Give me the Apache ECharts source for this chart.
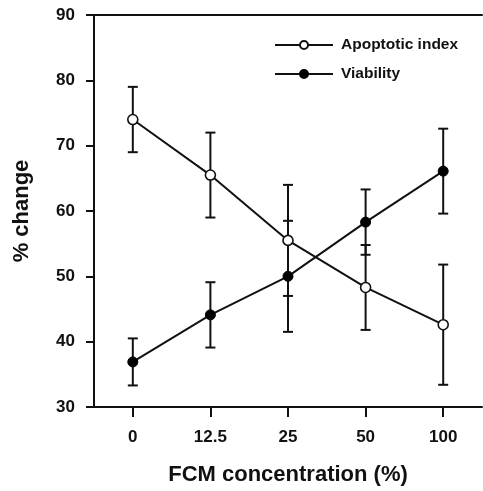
<!DOCTYPE html>
<html>
<head>
<meta charset="utf-8">
<script src="https://cdn.jsdelivr.net/npm/echarts@6/dist/echarts.min.js"></script>
<style>
  html, body { margin: 0; padding: 0; background: #fff; }
  #chart { width: 483px; height: 491px; }
</style>
</head>
<body>
<div id="chart"></div>
<script>
// FCM concentration groups (%)
const categories = ['0', '12.5', '25', '50', '100'];
// Mean % change with symmetric error (±)
const apoptoticIndex = [74, 65.5, 55.5, 48.3, 42.6];
const apoptoticErr   = [5, 6.5, 8.5, 6.5, 9.2];
const viability      = [36.9, 44.1, 50.0, 58.3, 66.1];
const viabilityErr   = [3.6, 5, 8.5, 5, 6.5];
const yTicks = [30, 40, 50, 60, 70, 80, 90];

const FONT = 'Liberation Sans, Arial, Helvetica, sans-serif';

function errorRows(means, errs) {
  return means.map((m, i) => [i, m - errs[i], m + errs[i]]);
}

function errorBarRenderer(params, api) {
  const i = api.value(0);
  const lo = api.coord([i, api.value(1)]);
  const hi = api.coord([i, api.value(2)]);
  const half = 5;
  const style = { stroke: '#111', lineWidth: 2, fill: null };
  return {
    type: 'group',
    children: [
      { type: 'line', shape: { x1: hi[0], y1: hi[1], x2: lo[0], y2: lo[1] }, style },
      { type: 'line', shape: { x1: hi[0] - half, y1: hi[1], x2: hi[0] + half, y2: hi[1] }, style },
      { type: 'line', shape: { x1: lo[0] - half, y1: lo[1], x2: lo[0] + half, y2: lo[1] }, style }
    ]
  };
}

const chart = echarts.init(document.getElementById('chart'), null, { renderer: 'canvas' });

chart.setOption({
  animation: false,
  backgroundColor: '#fff',
  grid: { left: 94, right: 1, top: 15, bottom: 83, containLabel: false },
  legend: {
    orient: 'vertical',
    left: 274,
    top: 37,
    padding: 0,
    itemWidth: 58,
    itemHeight: 10,
    itemGap: 13,
    data: ['Apoptotic index', 'Viability'],
    textStyle: { fontFamily: FONT, fontWeight: 'bold', fontSize: 15.5, color: '#111', padding: [0, 0, 0, 3] }
  },
  xAxis: [
    {
      type: 'category',
      data: categories,
      boundaryGap: true,
      position: 'bottom',
      axisLine: { show: true, lineStyle: { color: '#111', width: 2 } },
      axisTick: { show: true, alignWithLabel: true, length: 10, lineStyle: { color: '#111', width: 2 } },
      axisLabel: { fontFamily: FONT, fontWeight: 'bold', fontSize: 17, color: '#111', margin: 22 },
      name: 'FCM concentration (%)',
      nameLocation: 'middle',
      nameGap: 57,
      nameTextStyle: { fontFamily: FONT, fontWeight: 'bold', fontSize: 22, color: '#111' },
      splitLine: { show: false }
    },
    {
      type: 'category',
      data: categories,
      position: 'top',
      axisLine: { show: true, lineStyle: { color: '#111', width: 2 } },
      axisTick: { show: false },
      axisLabel: { show: false },
      splitLine: { show: false }
    }
  ],
  yAxis: {
    type: 'value',
    min: yTicks[0],
    max: yTicks[yTicks.length - 1],
    interval: 10,
    axisLine: { show: true, onZero: false, lineStyle: { color: '#111', width: 2 } },
    axisTick: { show: true, length: 8, lineStyle: { color: '#111', width: 2 } },
    axisLabel: { fontFamily: FONT, fontWeight: 'bold', fontSize: 17, color: '#111', margin: 19 },
    splitLine: { show: false },
    name: '% change',
    nameLocation: 'middle',
    nameGap: 61,
    nameTextStyle: { fontFamily: FONT, fontWeight: 'bold', fontSize: 22, color: '#111' }
  },
  series: [
    {
      type: 'custom',
      name: 'apoptoticErr',
      renderItem: errorBarRenderer,
      encode: { x: 0, y: [1, 2] },
      data: errorRows(apoptoticIndex, apoptoticErr),
      z: 1,
      silent: true
    },
    {
      type: 'custom',
      name: 'viabilityErr',
      renderItem: errorBarRenderer,
      encode: { x: 0, y: [1, 2] },
      data: errorRows(viability, viabilityErr),
      z: 1,
      silent: true
    },
    {
      type: 'line',
      name: 'Apoptotic index',
      data: apoptoticIndex,
      symbol: 'circle',
      symbolSize: 10,
      showAllSymbol: true,
      lineStyle: { color: '#111', width: 2 },
      itemStyle: { color: '#fff', borderColor: '#111', borderWidth: 1.6 },
      z: 3
    },
    {
      type: 'line',
      name: 'Viability',
      data: viability,
      symbol: 'circle',
      symbolSize: 10,
      showAllSymbol: true,
      lineStyle: { color: '#111', width: 2 },
      itemStyle: { color: '#000', borderColor: '#000', borderWidth: 1 },
      z: 3
    }
  ]
});
</script>
</body>
</html>
